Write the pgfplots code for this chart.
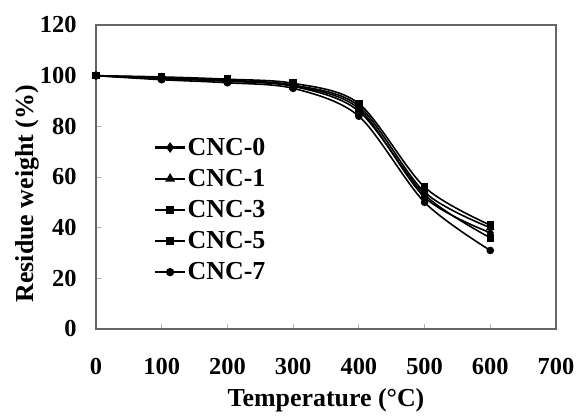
\documentclass[border=0pt]{standalone}
\usepackage{pgfplots}
\pgfplotsset{compat=1.18}
\usepackage{fontspec}
\setmainfont{Liberation Serif}
\begin{document}
\begin{tikzpicture}
\path[use as bounding box] (-96bp,-90bp) rectangle (483bp,329bp);
\begin{axis}[
  at={(0,0)}, anchor=south west,
  scale only axis, width=460bp, height=304bp,
  xmin=0, xmax=700, ymin=0, ymax=120,
  xtick={0,100,...,700}, ytick={0,20,...,120},
  xtick pos=bottom, ytick pos=left,
  tick align=inside, major tick length=5bp,
  tick style={gray!60, line width=0.8pt},
  axis line style={gray!80!black, line width=1.5pt},
  /pgf/number format/assume math mode=true,
  font=\fontsize{26}{30}\selectfont\bfseries,
  ticklabel style={font=\fontsize{24.5}{28}\selectfont\bfseries},
  yticklabel style={anchor=east, xshift=-16bp},
  xticklabel style={anchor=north, yshift=-26bp},
  xlabel={Temperature (°C)},
  ylabel={Residue weight (\%)},
  xlabel style={at={(axis description cs:0.5,-0.234)}, anchor=center},
  ylabel style={at={(axis description cs:-0.15,0.445)}, anchor=center},
  every axis plot/.append style={black, line width=1.6pt, smooth, tension=0.5, mark options={solid, fill=black, draw=black}},
  legend image code/.code={\draw[#1, mark repeat=2, mark phase=2] plot coordinates {(0bp,0bp) (15bp,0bp) (30bp,0bp)};},
  legend image post style={line width=2.2pt},
  legend style={at={(axis cs:88,76)}, anchor=north west, draw=none, fill=none, inner sep=0pt, row sep=9.5bp,
    nodes={inner sep=1.5bp, font=\fontsize{26}{30}\selectfont\bfseries}},
  legend cell align=left,
]
\addplot[black, mark=diamond*, mark size=3.5pt] coordinates {(0,100) (100,99) (200,98) (300,96) (400,87) (500,52) (600,38)};
\addlegendentry{CNC-0}
\addplot[black, mark=triangle*, mark size=3.5pt] coordinates {(0,100) (100,99.2) (200,98.2) (300,96.3) (400,88) (500,54) (600,40)};
\addlegendentry{CNC-1}
\addplot[black, mark=square*, mark size=3pt] coordinates {(0,100) (100,99.5) (200,98.6) (300,97) (400,89) (500,56) (600,41)};
\addlegendentry{CNC-3}
\addplot[black, mark=square*, mark size=3pt] coordinates {(0,100) (100,98.8) (200,97.8) (300,95.8) (400,86) (500,53) (600,36)};
\addlegendentry{CNC-5}
\addplot[black, mark=*, mark size=3pt] coordinates {(0,100) (100,98.4) (200,97.2) (300,95) (400,84) (500,50) (600,31)};
\addlegendentry{CNC-7}
\end{axis}
\end{tikzpicture}
\end{document}
